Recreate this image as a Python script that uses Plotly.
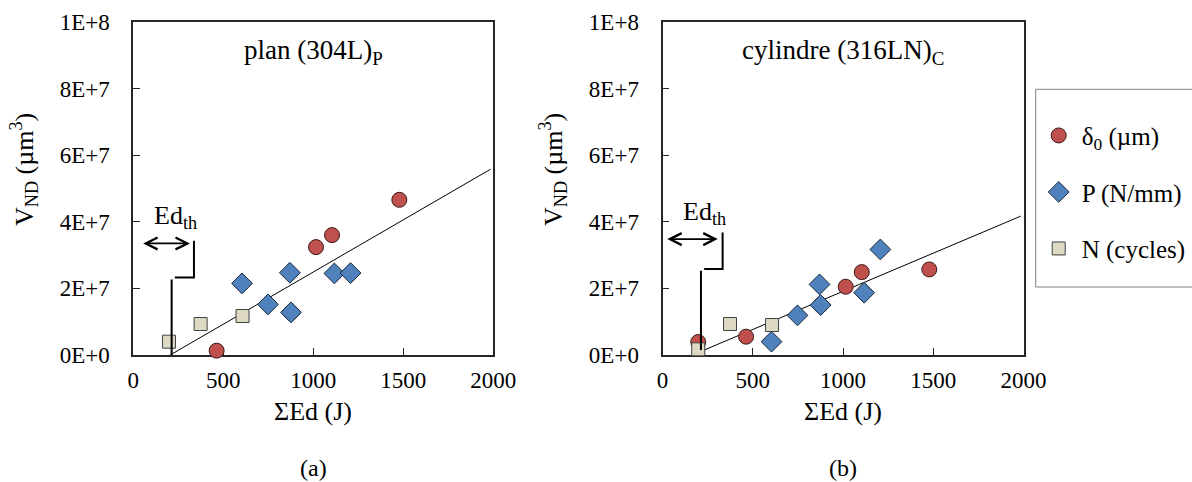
import plotly.graph_objects as go

# ---------------- data ----------------
# panel (a) : plan (304L)P
energy_delta_a = [463, 876, 1015, 1104, 1478]
vnd_delta_a = [1.3e6, 1.28e7, 3.24e7, 3.60e7, 4.66e7]
energy_p_a = [604, 748, 870, 876, 1117, 1207]
vnd_p_a = [2.15e7, 1.52e7, 2.47e7, 1.28e7, 2.45e7, 2.46e7]
energy_n_a = [198, 374, 607]
vnd_n_a = [4.0e6, 9.3e6, 1.17e7]
fit_x_a = [205, 1985]
fit_y_a = [0.0, 5.58e7]

# panel (b) : cylindre (316LN)C
energy_delta_b = [198, 463, 876, 1015, 1104, 1478]
vnd_delta_b = [3.9e6, 5.5e6, 1.5e7, 2.05e7, 2.49e7, 2.57e7]
energy_p_b = [604, 748, 870, 876, 1117, 1207]
vnd_p_b = [4.0e6, 1.19e7, 2.12e7, 1.5e7, 1.87e7, 3.17e7]
energy_n_b = [198, 374, 607]
vnd_n_b = [1.7e6, 9.3e6, 9.0e6]
fit_x_b = [205, 1985]
fit_y_b = [0.9e6, 4.17e7]

x_ticks = [0, 500, 1000, 1500, 2000]
y_tickvals = [0, 2e7, 4e7, 6e7, 8e7, 1e8]
y_ticktext = ["0E+0", "2E+7", "4E+7", "6E+7", "8E+7", "1E+8"]

series_names = ["δ<sub>0</sub> (µm)", "P (N/mm)", "N (cycles)"]
panel_titles = ["plan (304L)<sub>P</sub>", "cylindre (316LN)<sub>C</sub>"]
panel_letters = ["(a)", "(b)"]

# ---------------- styles ----------------
FONT = "Liberation Serif"
RED = "#C0504D"
BLUE = "#4F81BD"
BEIGE = "#DDD9C3"
W, H = 1192, 482

fig = go.Figure()

panels = [
    ("x", "y", "y3", energy_delta_a, vnd_delta_a, energy_p_a, vnd_p_a, energy_n_a, vnd_n_a, fit_x_a, fit_y_a, True),
    ("x2", "y2", "y4", energy_delta_b, vnd_delta_b, energy_p_b, vnd_p_b, energy_n_b, vnd_n_b, fit_x_b, fit_y_b, False),
]

for xa, ya, ylab, ex_d, vy_d, ex_p, vy_p, ex_n, vy_n, fx, fy, show in panels:
    # empty trace so the label-only overlay axis is drawn
    fig.add_trace(go.Scatter(x=[], y=[], xaxis=xa, yaxis=ylab, showlegend=False,
                             hoverinfo="skip"))
    fig.add_trace(go.Scatter(x=fx, y=fy, mode="lines", xaxis=xa, yaxis=ya,
                             line=dict(color="black", width=1), showlegend=False,
                             hoverinfo="skip"))
    fig.add_trace(go.Scatter(x=ex_d, y=vy_d, mode="markers", xaxis=xa, yaxis=ya,
                             name=series_names[0], legendgroup="d", showlegend=show,
                             cliponaxis=False,
                             marker=dict(symbol="circle", size=15, color=RED,
                                         line=dict(color="#3a1a1a", width=1))))
    fig.add_trace(go.Scatter(x=ex_p, y=vy_p, mode="markers", xaxis=xa, yaxis=ya,
                             name=series_names[1], legendgroup="p", showlegend=show,
                             cliponaxis=False,
                             marker=dict(symbol="diamond", size=16, color=BLUE,
                                         line=dict(color="#1a2a3a", width=1))))
    fig.add_trace(go.Scatter(x=ex_n, y=vy_n, mode="markers", xaxis=xa, yaxis=ya,
                             name=series_names[2], legendgroup="n", showlegend=show,
                             cliponaxis=False,
                             marker=dict(symbol="square", size=13, color=BEIGE,
                                         line=dict(color="#404040", width=1))))

tickfont = dict(family=FONT, size=23, color="black")
axis_common = dict(showline=True, linecolor="#262626", linewidth=1.5, mirror=True,
                   ticks="inside", ticklen=7, tickcolor="#262626", tickwidth=1,
                   showgrid=False, zeroline=False, layer="below traces",
                   automargin=False, tickfont=tickfont)
# label-only y axes laid over the framed ones (transparent outside ticks set the label gap)
ylabel_axis = dict(showline=False, showgrid=False, zeroline=False, automargin=False,
                   ticks="outside", ticklen=18, tickcolor="rgba(0,0,0,0)",
                   range=[0, 1e8], tickvals=y_tickvals, ticktext=y_ticktext,
                   tickfont=tickfont)

xdom_a = [133.3 / W, 493.3 / W]
xdom_b = [662.5 / W, 1023.5 / W]
ydom = [1 - 355 / H, 1 - 22 / H]

fig.update_layout(
    width=W, height=H,
    margin=dict(l=0, r=0, t=0, b=0, autoexpand=False),
    paper_bgcolor="white", plot_bgcolor="white",
    font=dict(family=FONT, size=23, color="black"),
    xaxis=dict(domain=xdom_a, range=[0, 2000], tickvals=x_ticks, anchor="y",
               ticklabelstandoff=4, **axis_common),
    yaxis=dict(domain=ydom, range=[0, 1e8], tickvals=y_tickvals,
               showticklabels=False, anchor="x", **axis_common),
    xaxis2=dict(domain=xdom_b, range=[0, 2000], tickvals=x_ticks, anchor="y2",
                ticklabelstandoff=4, **axis_common),
    yaxis2=dict(domain=ydom, range=[0, 1e8], tickvals=y_tickvals,
                showticklabels=False, anchor="x2", **axis_common),
    yaxis3=dict(overlaying="y", anchor="x", side="left", **ylabel_axis),
    yaxis4=dict(overlaying="y2", anchor="x2", side="left", **ylabel_axis),
    legend=dict(x=1035.7 / W, y=1 - 89.3 / H, xanchor="left", yanchor="top",
                borderwidth=0, bgcolor="rgba(0,0,0,0)",
                font=dict(family=FONT, size=25, color="black"),
                traceorder="grouped", tracegroupgap=21, itemwidth=36,
                title=dict(text=" ", font=dict(size=18))),
    showlegend=True,
)

annotations = []
shapes = []
# legend frame (its right side runs past the page edge, as in the source figure)
shapes.append(dict(type="rect", xref="paper", yref="paper",
                   x0=1035.7 / W, x1=1.02, y0=1 - 287 / H, y1=1 - 89.3 / H,
                   line=dict(color="#808080", width=1), layer="below"))

# Ed_th threshold marks
edth = [
    ("x", "y", 46, 315, 3.35e7, 337, 3.43e7, 2.33e7, 2.27e7, 0.0, 4.15e7),
    ("x2", "y2", 18, 306, 3.48e7, 333, 3.68e7, 2.58e7, 2.53e7, 0.15e7, 4.25e7),
]
for xa, ya, ax0, ax1, ay, bx, btop, bstep, vtop, vbot, ty in edth:
    annotations.append(dict(x=ax1, y=ay, ax=ax0, ay=ay, xref=xa, yref=ya, axref=xa, ayref=ya,
                            text="", showarrow=True, arrowhead=5, startarrowhead=5,
                            arrowside="end+start", arrowsize=1.3, startarrowsize=1.3,
                            arrowwidth=1.8, arrowcolor="black", standoff=0, startstandoff=0))
    shapes.append(dict(type="path", xref=xa, yref=ya,
                       path=f"M {bx},{btop} L {bx},{bstep} L 231,{bstep}",
                       line=dict(color="black", width=2)))
    shapes.append(dict(type="line", xref=xa, yref=ya, x0=213, x1=213, y0=vtop, y1=vbot,
                       line=dict(color="black", width=2)))
    annotations.append(dict(x=232, y=ty, xref=xa, yref=ya, text="Ed<sub>th</sub>",
                            showarrow=False, font=dict(family=FONT, size=26)))

for i, (xa, ya) in enumerate([("x", "y"), ("x2", "y2")]):
    annotations.append(dict(x=1000, y=9.1e7, xref=xa, yref=ya, text=panel_titles[i],
                            showarrow=False, font=dict(family=FONT, size=27)))

for cx, lx, letter in [(313, 24, panel_letters[0]), (843, 553, panel_letters[1])]:
    annotations.append(dict(x=cx / W, y=1 - 411 / H, xref="paper", yref="paper",
                            xanchor="center", yanchor="middle",
                            text="ΣEd (J)", showarrow=False,
                            font=dict(family=FONT, size=26)))
    annotations.append(dict(x=cx / W, y=1 - 468 / H, xref="paper", yref="paper",
                            xanchor="center", yanchor="middle",
                            text=letter, showarrow=False,
                            font=dict(family=FONT, size=24)))
    annotations.append(dict(x=lx / W, y=1 - 170 / H, xref="paper", yref="paper",
                            xanchor="center", yanchor="middle",
                            text="V<sub>ND</sub> (µm<sup>3</sup>)", textangle=-90,
                            showarrow=False, font=dict(family=FONT, size=26)))

fig.update_layout(annotations=annotations, shapes=shapes)
fig.write_html("out.html", config={"displayModeBar": False},
               post_script="document.body.style.margin='0px';")
